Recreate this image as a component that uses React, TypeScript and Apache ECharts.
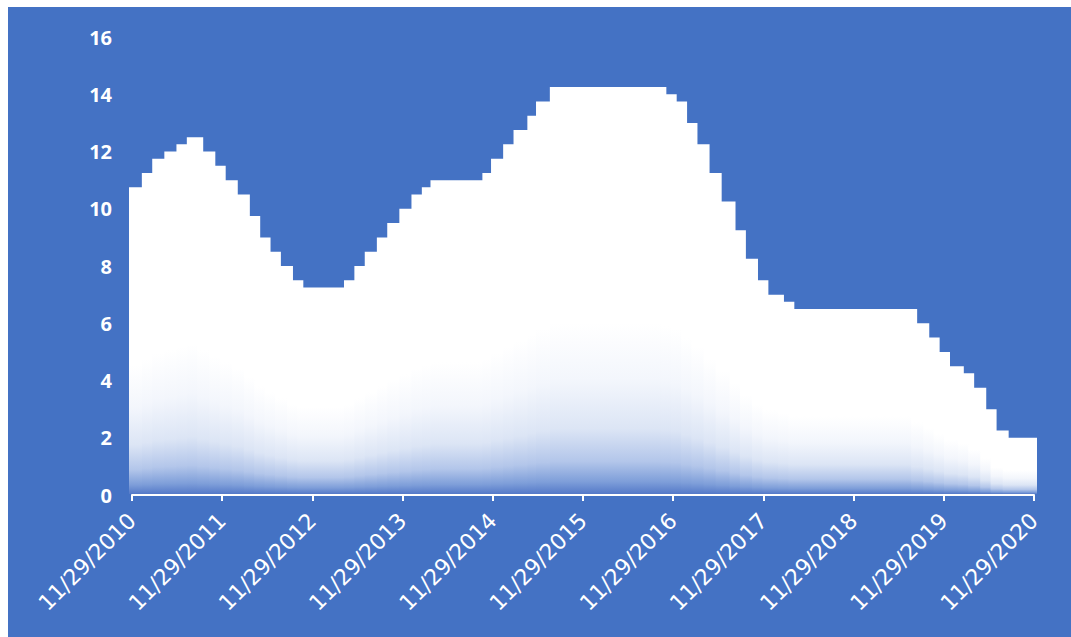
import React, { useEffect, useRef } from "react";
import * as echarts from "echarts";

// SELIC target rate, effective dates of each change and the new rate (%)
const changeDates = [
  "2010-11-29", "2011-01-20", "2011-03-03", "2011-04-21", "2011-06-09", "2011-07-21",
  "2011-09-01", "2011-10-20", "2011-12-01", "2012-01-19", "2012-03-08", "2012-04-19",
  "2012-05-31", "2012-07-12", "2012-08-30", "2012-10-11", "2013-04-18", "2013-05-30",
  "2013-07-11", "2013-08-29", "2013-10-10", "2013-11-28", "2014-01-16", "2014-02-27",
  "2014-04-03", "2014-10-30", "2014-12-04", "2015-01-22", "2015-03-05", "2015-04-30",
  "2015-06-04", "2015-07-30", "2016-10-20", "2016-12-01", "2017-01-12", "2017-02-23",
  "2017-04-13", "2017-06-01", "2017-07-27", "2017-09-07", "2017-10-26", "2017-12-07",
  "2018-02-08", "2018-03-22", "2019-08-01", "2019-09-19", "2019-10-31", "2019-12-12",
  "2020-02-06", "2020-03-19", "2020-05-07", "2020-06-18", "2020-08-06",
];
const selicRates = [
  10.75, 11.25, 11.75, 12.0, 12.25, 12.5,
  12.0, 11.5, 11.0, 10.5, 9.75, 9.0,
  8.5, 8.0, 7.5, 7.25, 7.5, 8.0,
  8.5, 9.0, 9.5, 10.0, 10.5, 10.75,
  11.0, 11.25, 11.75, 12.25, 12.75, 13.25,
  13.75, 14.25, 14.0, 13.75, 13.0, 12.25,
  11.25, 10.25, 9.25, 8.25, 7.5, 7.0,
  6.75, 6.5, 6.0, 5.5, 5.0, 4.5,
  4.25, 3.75, 3.0, 2.25, 2.0,
];
const firstYear = 2010;
const tickLabels = [
  "11/29/2010", "11/29/2011", "11/29/2012", "11/29/2013", "11/29/2014", "11/29/2015",
  "11/29/2016", "11/29/2017", "11/29/2018", "11/29/2019", "11/29/2020",
];
const yMax = 16;
const yStep = 2;

function toUTC(s: string) {
  const [y, m, d] = s.split("-").map(Number);
  return Date.UTC(y, m - 1, d);
}
// position in "years since 11/29/2010", each axis year running 11/29 to 11/29
function toYearPos(s: string) {
  const t = toUTC(s);
  for (let k = 0; k < tickLabels.length - 1; k++) {
    const a = Date.UTC(firstYear + k, 10, 29);
    const b = Date.UTC(firstYear + k + 1, 10, 29);
    if (t < b) return k + (t - a) / (b - a);
  }
  return tickLabels.length - 1;
}

const segments = changeDates.map((d, i) => [
  toYearPos(d),
  i + 1 < changeDates.length ? toYearPos(changeDates[i + 1]) : tickLabels.length - 1,
  selicRates[i],
]);

export default function App() {
  const ref = useRef<HTMLDivElement>(null);
  useEffect(() => {
    if (!ref.current) return;
    const chart = echarts.init(ref.current, undefined, { renderer: "svg" });
    const stops = [
      { offset: 0, color: "#ffffff" },
      { offset: 0.58, color: "#ffffff" },
      { offset: 0.72, color: "#f3f6fc" },
      { offset: 0.84, color: "#dce5f5" },
      { offset: 0.92, color: "#b3c6ea" },
      { offset: 0.97, color: "#7e9ed9" },
      { offset: 1, color: "#5479c8" },
    ];
    chart.setOption({
      animation: false,
      backgroundColor: "#4472C4",
      grid: { left: 124, right: 37, top: 30, bottom: 142, containLabel: false },
      xAxis: {
        type: "value",
        min: 0,
        max: tickLabels.length - 1,
        interval: 1,
        splitLine: { show: false },
        axisLine: { show: true, onZero: false, lineStyle: { color: "#ffffff", width: 2 } },
        axisTick: { show: true, length: 6, lineStyle: { color: "#ffffff", width: 2 } },
        axisLabel: {
          rotate: 45,
          margin: 22,
          color: "#ffffff",
          fontFamily: "DejaVu Sans",
          fontSize: 22,
          formatter: (v: number) => tickLabels[Math.round(v)] ?? "",
        },
      },
      yAxis: {
        type: "value",
        min: 0,
        max: yMax,
        interval: yStep,
        splitLine: { show: false },
        axisLine: { show: false },
        axisTick: { show: false },
        axisLabel: {
          margin: 20,
          color: "#ffffff",
          fontFamily: "Open Sans",
          fontWeight: "bold",
          fontSize: 20,
        },
      },
      series: [
        {
          type: "custom",
          clip: false,
          encode: { x: [0, 1], y: 2 },
          data: segments,
          renderItem: (params: any, api: any) => {
            const pTop = api.coord([api.value(0), api.value(2)]);
            const pBot = api.coord([api.value(1), 0]);
            const pad = 3;
            return {
              type: "rect",
              shape: {
                x: pTop[0] - pad,
                y: pTop[1],
                width: pBot[0] - pTop[0] + 2 * pad,
                height: pBot[1] - pTop[1] - 1,
              },
              style: {
                fill: new echarts.graphic.LinearGradient(0, 0, 0, 1, stops),
              },
            };
          },
        },
      ],
    });
    return () => chart.dispose();
  }, []);
  return (
    <div
      ref={ref}
      style={{ position: "absolute", left: 8, top: 7, width: 1063, height: 630 }}
    />
  );
}
